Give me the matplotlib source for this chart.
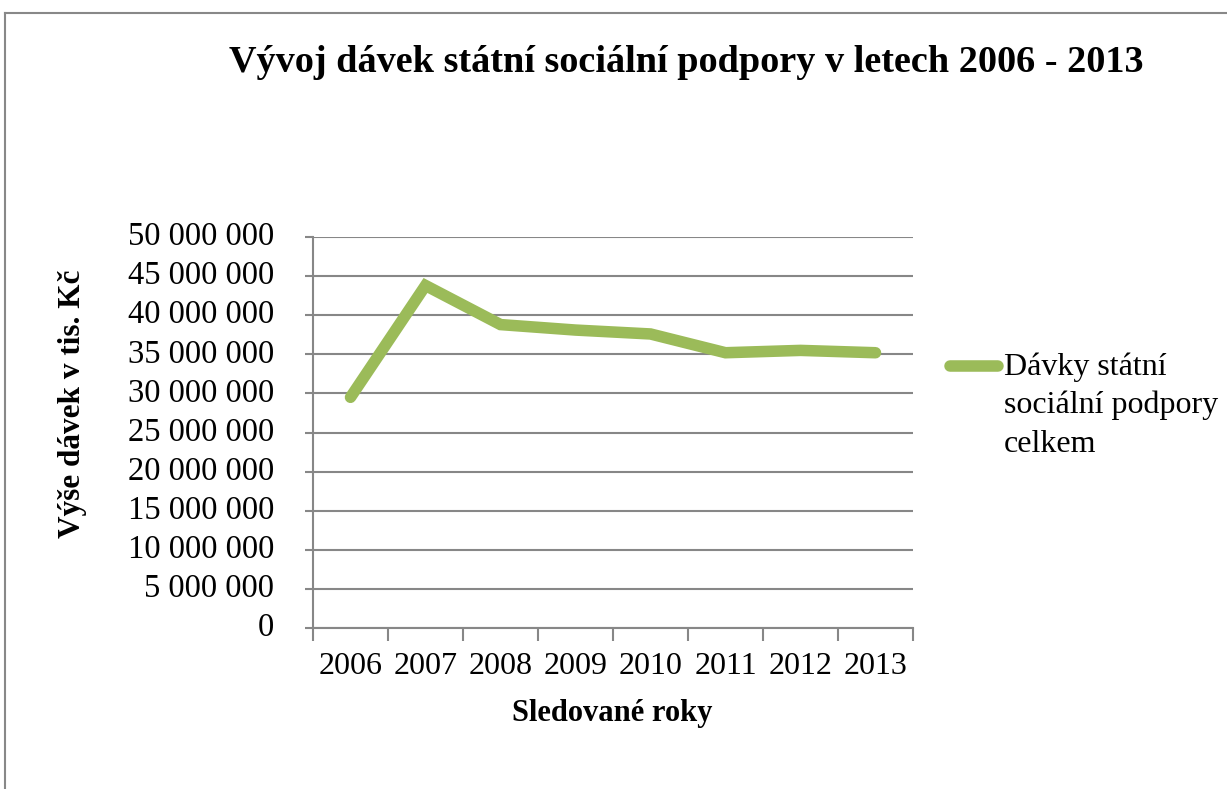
import matplotlib
matplotlib.use("Agg")
import matplotlib.pyplot as plt
from matplotlib.lines import Line2D
from matplotlib.ticker import FixedLocator, NullFormatter, FuncFormatter

years = ["2006", "2007", "2008", "2009", "2010", "2011", "2012", "2013"]
values = [29500000, 43800000, 38800000, 38100000, 37600000, 35200000, 35500000, 35200000]
title = "Vývoj dávek státní sociální podpory v letech 2006 - 2013"
ylabel = "Výše dávek v tis. Kč"
xlabel = "Sledované roky"
legend_label = "Dávky státní\nsociální podpory\ncelkem"

plt.rcParams['font.family'] = ['Liberation Serif', 'DejaVu Serif']

W, H = 1227, 789
fig = plt.figure(figsize=(W / 100, H / 100), dpi=100)
fig.patch.set_facecolor('white')

# outer frame (top and left edges visible)
fig.add_artist(Line2D([5 / W, 5 / W], [0, 1 - 13 / H], transform=fig.transFigure, color='#888888', lw=1.5))
fig.add_artist(Line2D([5 / W, 1], [1 - 13 / H, 1 - 13 / H], transform=fig.transFigure, color='#888888', lw=1.5))

ax = fig.add_axes([313 / W, 1 - 628 / H, 600 / W, 391 / H])
x = [i + 0.5 for i in range(len(years))]
line, = ax.plot(x, values, color='#9BBB59', lw=8.3, solid_capstyle='round', solid_joinstyle='miter')

ax.set_xlim(0, len(years))
ax.set_ylim(0, 50000000)
ax.yaxis.set_major_locator(FixedLocator([i * 5000000 for i in range(11)]))
ax.yaxis.set_major_formatter(FuncFormatter(lambda v, p: f"{int(v):,}".replace(",", " ")))
ax.grid(axis='y', color='#878787', lw=1.5)
ax.set_axisbelow(True)

ax.xaxis.set_major_locator(FixedLocator(list(range(len(years) + 1))))
ax.xaxis.set_major_formatter(NullFormatter())
ax.xaxis.set_minor_locator(FixedLocator(x))
ax.set_xticklabels(years, minor=True)
ax.tick_params(axis='x', which='major', length=9, width=1.5, color='#878787', direction='out')
ax.tick_params(axis='x', which='minor', length=0, pad=17, labelsize=23)
ax.tick_params(axis='y', length=6, width=1.5, color='#878787', labelsize=23.5, pad=22)
for t in ax.get_yticklabels():
    t.set_verticalalignment('center')

for s in ['top', 'right']:
    ax.spines[s].set_visible(False)
for s in ['left', 'bottom']:
    ax.spines[s].set_color('#878787')
    ax.spines[s].set_linewidth(1.5)

fig.text(686 / W, 1 - 63 / H, title, ha='center', va='center', fontsize=27.5, fontweight='bold')
fig.text(73 / W, 1 - 404 / H, ylabel, ha='center', va='center', rotation=90, fontsize=22.5, fontweight='bold')
fig.text(612 / W, 1 - 714 / H, xlabel, ha='center', va='center', fontsize=22, fontweight='bold')

# legend
fig.add_artist(Line2D([950 / W, 998 / W], [1 - 366 / H, 1 - 366 / H], transform=fig.transFigure,
                      color='#9BBB59', lw=8.3, solid_capstyle='round'))
fig.text(1004 / W, 1 - 352 / H, legend_label, ha='left', va='top', fontsize=23, linespacing=1.42)

fig.savefig("out.png", dpi=100, facecolor='white')
